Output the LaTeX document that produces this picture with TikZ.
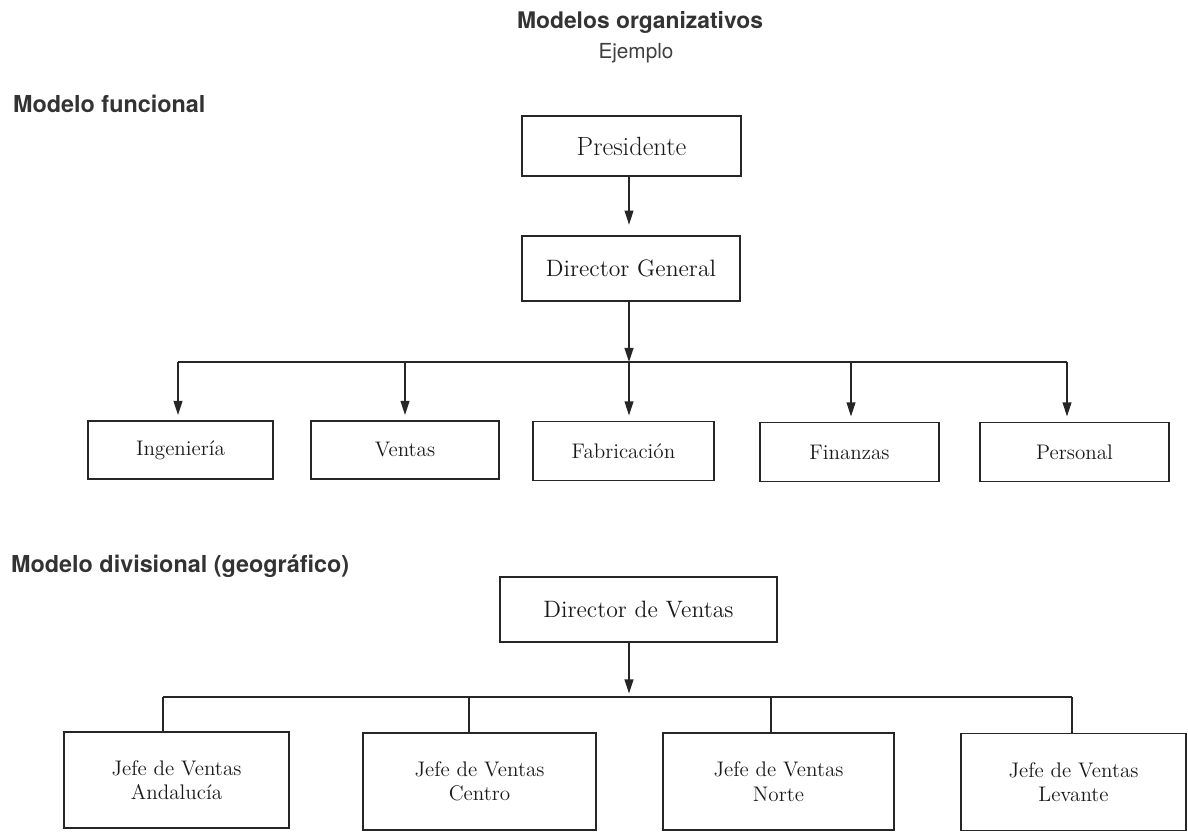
\documentclass[tikz,border=0pt]{standalone}
\usepackage{fontspec}
\setsansfont{TeX Gyre Heros}
\usetikzlibrary{arrows.meta, positioning}

\begin{document}
\begin{tikzpicture}[x=0.02cm, y=-0.02cm,
    box/.style={draw=black!85, line width=0.9pt, rectangle, inner sep=0pt, text=black!90},
    bigtext/.style={font=\fontsize{13.5}{16}\selectfont},
    smalltext/.style={font=\fontsize{12}{14}\selectfont, align=center},
    arr/.style={draw=black!85, line width=0.9pt, -{Triangle[length=8pt, width=5pt]}},
    link/.style={draw=black!85, line width=0.9pt},
    heading/.style={font=\sffamily\bfseries\fontsize{13.3}{15}\selectfont, text=black!80, anchor=west}]
  \useasboundingbox (0,0) rectangle (1188,834);

  % Titles
  \node[font=\sffamily\bfseries\fontsize{13}{15}\selectfont, text=black!80] (title) at (640,22) {Modelos organizativos};
  \node[font=\sffamily\fontsize{11.8}{14}\selectfont, text=black!75] (sub) at (636,53) {Ejemplo};

  % Functional model
  \node[heading] (hfun) at (7,104) {Modelo funcional};
  \node[box, font=\fontsize{15}{17}\selectfont, minimum width=219*0.02cm, minimum height=60*0.02cm] (pres) at (631.5,146) {Presidente};
  \node[box, bigtext, minimum width=218*0.02cm, minimum height=65*0.02cm] (dg) at (631,268.5) {Director General};

  \node[box, smalltext, minimum width=185*0.02cm, minimum height=58*0.02cm] (ing) at (180.5,450) {Ingeniería};
  \node[box, smalltext, minimum width=188*0.02cm, minimum height=58*0.02cm] (ven) at (405,450) {Ventas};
  \node[box, smalltext, minimum width=181*0.02cm, minimum height=59*0.02cm] (fab) at (623.5,451) {Fabricación};
  \node[box, smalltext, minimum width=179*0.02cm, minimum height=59*0.02cm] (fin) at (849.5,452) {Finanzas};
  \node[box, smalltext, minimum width=189*0.02cm, minimum height=59*0.02cm] (per) at (1074.5,452) {Personal};

  \coordinate (fA) at (178,362);
  \coordinate (fB) at (405,362);
  \coordinate (fC) at (629,362);
  \coordinate (fD) at (851,362);
  \coordinate (fE) at (1067,362);

  \draw[arr, shorten >=6pt] (pres.south -| fC) -- (dg.north -| fC);
  \draw[arr] (dg.south -| fC) -- (fC);
  \draw[link] (fA) -- (fE);
  \draw[arr, shorten >=3pt] (fA) -- (fA |- ing.north);
  \draw[arr, shorten >=3pt] (fB) -- (fB |- ven.north);
  \draw[arr, shorten >=3pt] (fC) -- (fC |- fab.north);
  \draw[arr, shorten >=3pt] (fD) -- (fD |- fin.north);
  \draw[arr, shorten >=3pt] (fE) -- (fE |- per.north);

  % Divisional model
  \node[heading] (hdiv) at (5,566) {Modelo divisional (geográfico)};
  \node[box, bigtext, minimum width=277*0.02cm, minimum height=65*0.02cm] (dv) at (638.5,609.5) {Director de Ventas};

  \node[box, smalltext, minimum width=225*0.02cm, minimum height=96*0.02cm] (and) at (176.5,780) {Jefe de Ventas\\Andalucía};
  \node[box, smalltext, minimum width=233*0.02cm, minimum height=97*0.02cm] (cen) at (479.5,781.5) {Jefe de Ventas\\Centro};
  \node[box, smalltext, minimum width=231*0.02cm, minimum height=97*0.02cm] (nor) at (778.5,781.5) {Jefe de Ventas\\Norte};
  \node[box, smalltext, minimum width=225*0.02cm, minimum height=97*0.02cm] (lev) at (1073.5,782) {Jefe de Ventas\\Levante};

  \coordinate (tA) at (163,697);
  \coordinate (tB) at (469,697);
  \coordinate (tC) at (629,697);
  \coordinate (tD) at (771,697);
  \coordinate (tE) at (1072,697);

  \draw[arr, shorten >=2pt] (dv.south -| tC) -- (tC);
  \draw[link] (tA) -- (tE);
  \draw[link] (tA) -- (tA |- and.north);
  \draw[link] (tB) -- (tB |- cen.north);
  \draw[link] (tD) -- (tD |- nor.north);
  \draw[link] (tE) -- (tE |- lev.north);
\end{tikzpicture}
\end{document}
